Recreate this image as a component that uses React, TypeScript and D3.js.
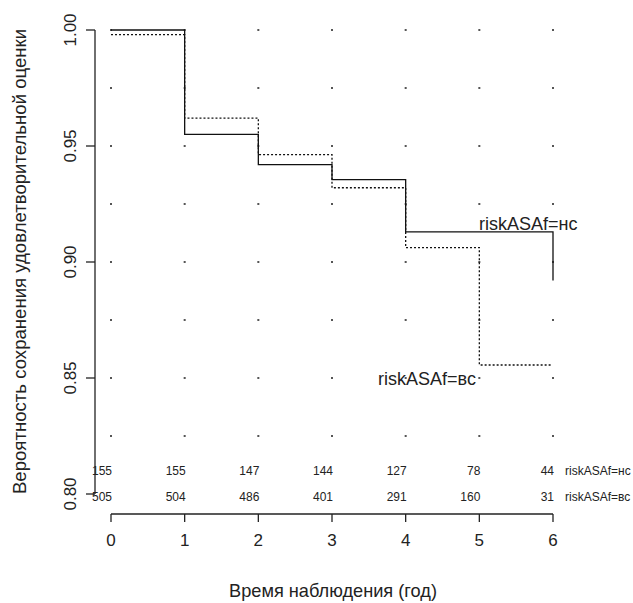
import React from "react";
import * as d3 from "d3";

const ticksX = [0, 1, 2, 3, 4, 5, 6];
const ticksY = [0.8, 0.85, 0.9, 0.95, 1.0];
const gridY = [0.825, 0.85, 0.875, 0.9, 0.925, 0.95, 0.975, 1.0];

const ncTimes = [0, 1, 2, 3, 4, 6];
const ncSurv = [1.0, 0.955, 0.942, 0.9355, 0.913, 0.892];
const ncEnd = 6;

const vcTimes = [0, 1, 2, 3, 4, 5];
const vcSurv = [0.998, 0.962, 0.9463, 0.932, 0.9062, 0.8556];
const vcEnd = 5.97;

const riskNC = [155, 155, 147, 144, 127, 78, 44];
const riskVC = [505, 504, 486, 401, 291, 160, 31];

const labelNC = "riskASAf=нс";
const labelVC = "riskASAf=вс";

const W = 633, H = 603;
const x = d3.scaleLinear().domain([0, 6]).range([111, 553]);
const y = d3.scaleLinear().domain([0.8, 1.0]).range([494, 30]);

function stepPath(times: number[], surv: number[], end: number, dropAtEnd: boolean) {
  const pts: [number, number][] = times.map((t, i) => [t, surv[i]]);
  if (!dropAtEnd) pts.push([end, surv[surv.length - 1]]);
  const line = d3
    .line<[number, number]>()
    .x((d) => x(d[0]))
    .y((d) => y(d[1]))
    .curve(d3.curveStepAfter);
  return line(pts) || "";
}

export default function App() {
  const font = "'Liberation Sans', Arial, sans-serif";
  const ncPath = stepPath(ncTimes, ncSurv, ncEnd, true);
  const vcPath = stepPath(vcTimes, vcSurv, vcEnd, false);
  return (
    <svg
      width={W}
      height={H}
      style={{ position: "absolute", left: 0, top: 0, background: "#fff" }}
      fontFamily={font}
    >
      {/* grid dots */}
      {ticksX.map((t) =>
        gridY.map((g) => (
          <rect key={`${t}-${g}`} x={x(t) - 1} y={y(g) - 1} width={2} height={2} fill="#555" />
        ))
      )}
      {/* y axis */}
      <line x1={95} x2={95} y1={y(1.0)} y2={y(0.8)} stroke="#222" strokeWidth={1.3} />
      {ticksY.map((t) => (
        <g key={t}>
          <line x1={86} x2={95} y1={y(t)} y2={y(t)} stroke="#222" strokeWidth={1.3} />
          <text
            transform={`translate(${76},${y(t)}) rotate(-90)`}
            textAnchor="middle"
            fontSize={17}
            fill="#222"
          >
            {t.toFixed(2)}
          </text>
        </g>
      ))}
      {/* x axis */}
      <line x1={x(0)} x2={x(6)} y1={514} y2={514} stroke="#222" strokeWidth={1.3} />
      {ticksX.map((t) => (
        <g key={t}>
          <line x1={x(t)} x2={x(t)} y1={514} y2={522} stroke="#222" strokeWidth={1.3} />
          <text x={x(t)} y={546} textAnchor="middle" fontSize={17} fill="#222">
            {t}
          </text>
        </g>
      ))}
      {/* curves */}
      <path d={ncPath} fill="none" stroke="#111" strokeWidth={1.3} />
      <path d={vcPath} fill="none" stroke="#111" strokeWidth={1.3} strokeDasharray="2,2" />
      {/* curve labels */}
      <text x={479} y={230} fontSize={18} fill="#222">{labelNC}</text>
      <text x={378} y={385} fontSize={18} fill="#222">{labelVC}</text>
      {/* risk table */}
      {ticksX.map((t, i) => (
        <g key={`r${t}`}>
          <text x={x(t) + 1} y={475} textAnchor="end" fontSize={12} fill="#222">{riskNC[i]}</text>
          <text x={x(t) + 1} y={500.5} textAnchor="end" fontSize={12} fill="#222">{riskVC[i]}</text>
        </g>
      ))}
      <text x={565} y={475} fontSize={12} fill="#222">{labelNC}</text>
      <text x={565} y={500.5} fontSize={12} fill="#222">{labelVC}</text>
      {/* axis titles */}
      <text x={333} y={597} textAnchor="middle" fontSize={18.2} fill="#222">
        Время наблюдения (год)
      </text>
      <text
        transform={`translate(${26},${261.5}) rotate(-90)`}
        textAnchor="middle"
        fontSize={18.6}
        fill="#222"
      >
        Вероятность сохранения удовлетворительной оценки
      </text>
    </svg>
  );
}
